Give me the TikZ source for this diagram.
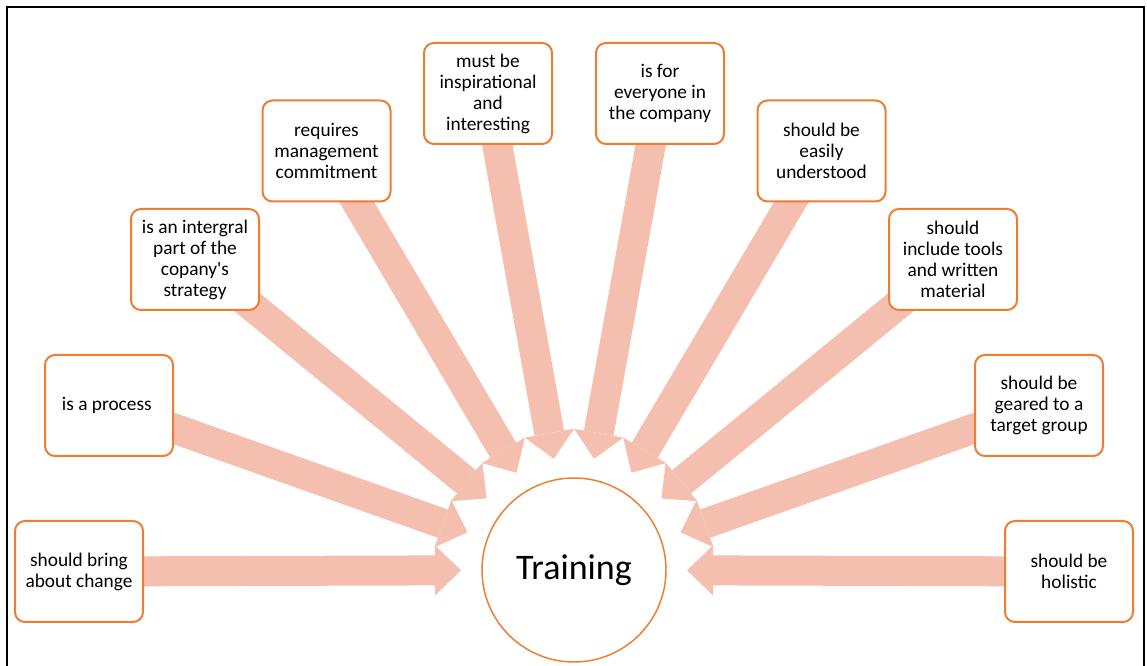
\documentclass[tikz,border=0pt]{standalone}
\usepackage{fontspec}
\setmainfont{Carlito}
\usetikzlibrary{
  positioning,
  calc,
  backgrounds,
  arrows.meta}
\definecolor{boxcolor}{RGB}{237,125,49}
\definecolor{arrowcolor}{RGB}{244,191,174}
\tikzset{
  %% statement : one statement about the training
  statement/.style={
    rectangle,
    rounded corners=7.5pt,
    draw=boxcolor,
    line width=1.5pt,
    fill=white,
    minimum width=96pt,
    minimum height=75.75pt,
    inner sep=2pt,
    font=\fontsize{14.5}{15.75}\selectfont,
    align=center
  },
  %% centre : the circle in the middle
  centre/.style={
    circle,
    draw=boxcolor,
    line width=1.1pt,
    fill=white,
    minimum size=138pt,
    font=\fontsize{27}{32}\selectfont
  },
  %% connection_arrow : the broad arrow from a statement to the centre
  connection_arrow/.style={
    draw=arrowcolor,
    line width=22.5pt,
    -{Triangle[width=37.5pt, length=19.5pt, line width=0pt]}
  },
  %% frame : frame around the figure
  frame/.style={black, line width=1.5pt}
}

\begin{document}
\begin{tikzpicture}
  [x=0.75pt,
  y=-0.75pt,
  align=center]

  \useasboundingbox (0,0) rectangle (1147,666);

  %% Frame (its bottom is cut off)
  \draw [frame] (7,690) -- (7,7) -- (1144,7) -- (1144,690);

  %% Centre
  \node (training) [centre] at (574,570) {Training};

  %% Statements, left half
  \node (change) [statement] at (79,571.5) {%
    should bring\\about change
  };

  \node (process) [statement] at (109,405.5) {%
    is a process
  };

  \node (strategy) [statement] at (195,259.5) {%
    is an intergral\\part of the\\copany\textquotesingle s\\strategy
  };

  \node (management) [statement] at (326.5,151) {%
    requires\\management\\commitment
  };

  \node (inspiring) [statement] at (488,93.5) {%
    must be\\inspirational\\and\\interesting
  };

  %% Statements, right half
  \node (everyone) [statement] at (660,93.5) {%
    is for\\everyone in\\the company
  };

  \node (understood) [statement] at (821.5,151) {%
    should be\\easily\\understood
  };

  \node (tools) [statement] at (953,259.5) {%
    should\\include tools\\and written\\material
  };

  \node (target) [statement] at (1039,405.5) {%
    should be\\geared to a\\target group
  };

  \node (holistic) [statement] at (1069,571.5) {%
    should be\\holistic
  };

  %% Arrow tips, all at the same distance from the centre
  \coordinate (changetip) at ($(training)!84.75pt!(change)$);
  \coordinate (processtip) at ($(training)!84.75pt!(process)$);
  \coordinate (strategytip) at ($(training)!84.75pt!(strategy)$);
  \coordinate (managementtip) at ($(training)!84.75pt!(management)$);
  \coordinate (inspiringtip) at ($(training)!84.75pt!(inspiring)$);
  \coordinate (everyonetip) at ($(training)!84.75pt!(everyone)$);
  \coordinate (understoodtip) at ($(training)!84.75pt!(understood)$);
  \coordinate (toolstip) at ($(training)!84.75pt!(tools)$);
  \coordinate (targettip) at ($(training)!84.75pt!(target)$);
  \coordinate (holistictip) at ($(training)!84.75pt!(holistic)$);

  %% Connections
  \begin{scope}[on background layer]
    \draw [connection_arrow] (change.center) -- (changetip);
    \draw [connection_arrow] (process.center) -- (processtip);
    \draw [connection_arrow] (strategy.center) -- (strategytip);
    \draw [connection_arrow] (management.center) -- (managementtip);
    \draw [connection_arrow] (inspiring.center) -- (inspiringtip);
    \draw [connection_arrow] (everyone.center) -- (everyonetip);
    \draw [connection_arrow] (understood.center) -- (understoodtip);
    \draw [connection_arrow] (tools.center) -- (toolstip);
    \draw [connection_arrow] (target.center) -- (targettip);
    \draw [connection_arrow] (holistic.center) -- (holistictip);
  \end{scope}

\end{tikzpicture}
\end{document}
